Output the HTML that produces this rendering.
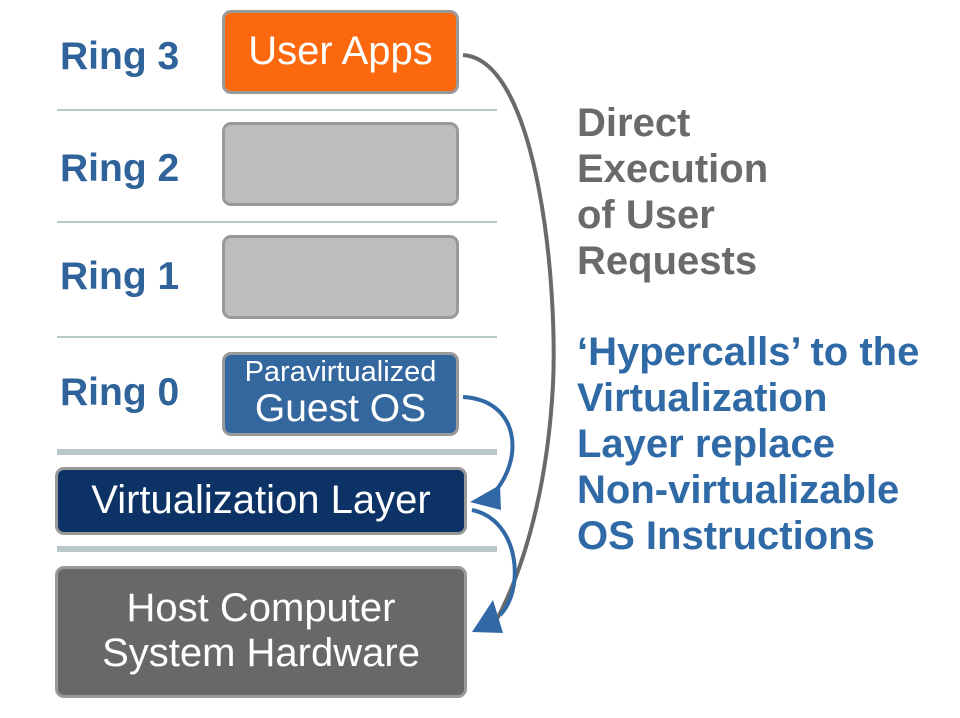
<!DOCTYPE html>
<html><head><style>
body{margin:0;width:960px;height:718px;background:#fff;position:relative;overflow:hidden;font-family:"Liberation Sans",sans-serif}
.r{position:absolute;left:60px;font-weight:bold;font-size:39px;color:#2f6399}
.b{position:absolute;box-sizing:border-box;border:3px solid #999;border-radius:9px;color:#fff;text-align:center;white-space:nowrap}
.ln{position:absolute;left:57px;width:440px;background:#b9c9c9}
.t{position:absolute;left:577px;font-weight:bold;font-size:40px;line-height:46px;white-space:nowrap}
</style></head><body>
<div class="r" style="top:35px">Ring 3</div>
<div class="r" style="top:147px">Ring 2</div>
<div class="r" style="top:255px">Ring 1</div>
<div class="r" style="top:371px">Ring 0</div>
<div class="ln" style="top:109px;height:2px"></div>
<div class="ln" style="top:221px;height:2px"></div>
<div class="ln" style="top:336px;height:2px"></div>
<div class="ln" style="top:449px;height:6px"></div>
<div class="ln" style="top:546px;height:6px"></div>
<div class="b" style="left:222px;top:10px;width:237px;height:84px;background:#fb680e;font-size:40px;line-height:76px">User Apps</div>
<div class="b" style="left:222px;top:122px;width:237px;height:84px;background:#bdbdbd"></div>
<div class="b" style="left:222px;top:235px;width:237px;height:84px;background:#bdbdbd"></div>
<div class="b" style="left:222px;top:352px;width:237px;height:84px;background:#33679e"><div style="font-size:29px;line-height:32px;margin-top:1px">Paravirtualized</div><div style="font-size:39px;line-height:42px">Guest OS</div></div>
<div class="b" style="left:55px;top:467px;width:412px;height:68px;background:#0c3266;font-size:40px;line-height:60px">Virtualization Layer</div>
<div class="b" style="left:55px;top:566px;width:412px;height:132px;background:#686868;font-size:40px;line-height:45px;padding-top:17px">Host Computer<br>System Hardware</div>
<svg style="position:absolute;left:0;top:0" width="960" height="718">
<path d="M463 55 C540 60 560 300 552 400 C545 500 520 580 492 628" fill="none" stroke="#6a6a6a" stroke-width="4"/>
<path d="M463 397 C520 400 525 460 492 495" fill="none" stroke="#3069a6" stroke-width="4"/>
<polygon points="470,502 500,485 501,510" fill="#3069a6"/>
<path d="M472 510 C520 520 525 590 500 615" fill="none" stroke="#3069a6" stroke-width="4"/>
<polygon points="472,632 493,600 503,633" fill="#3069a6"/>
</svg>
<div class="t" style="top:100px;color:#6a6a6a">Direct<br>Execution<br>of User<br>Requests</div>
<div class="t" style="top:329px;color:#2f6aa6">‘Hypercalls’ to the<br>Virtualization<br>Layer replace<br>Non-virtualizable<br>OS Instructions</div>
</body></html>
